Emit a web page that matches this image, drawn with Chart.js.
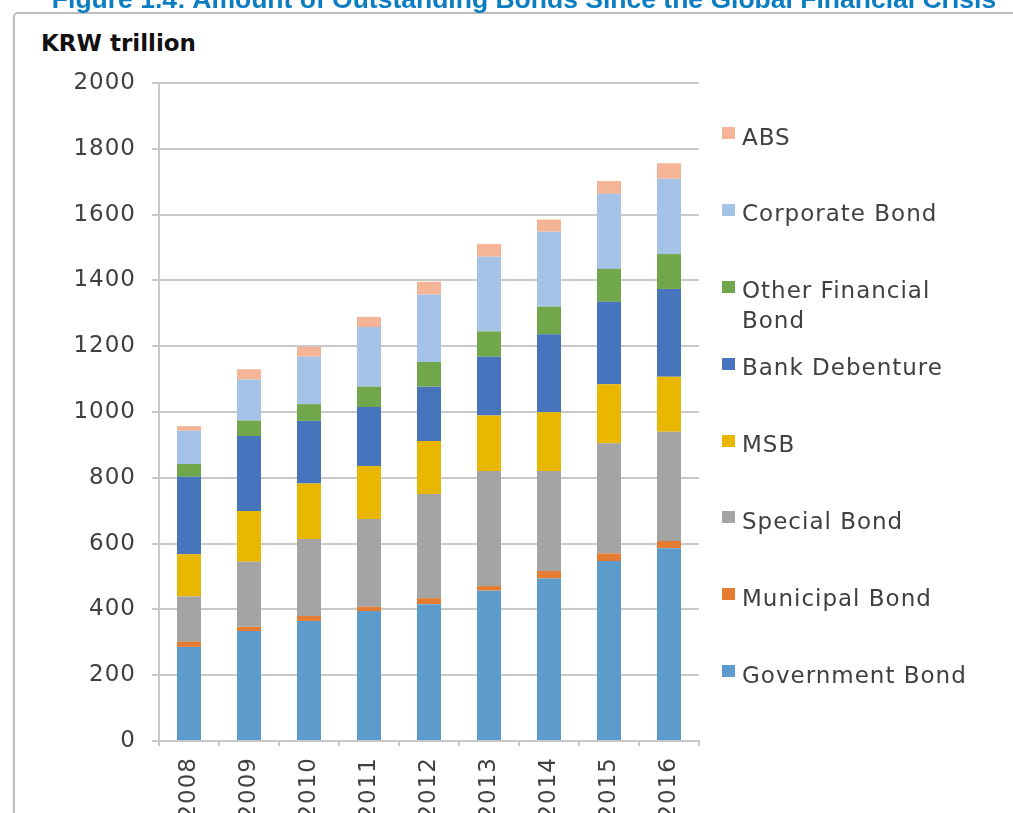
<!DOCTYPE html>
<html>
<head>
<meta charset="utf-8">
<script src="https://cdn.jsdelivr.net/npm/chart.js@4.4.1/dist/chart.umd.min.js"></script>
<style>
  body { margin: 0; width: 1013px; height: 813px; overflow: hidden; background: #fff; position: relative; }
  #frame {
    position: absolute; left: 13px; top: 12px; width: 1100px; height: 900px;
    border: 2px solid #bdbdbd; border-radius: 5px;
    box-shadow: 1px 2px 3px rgba(0,0,0,0.25);
  }
  #title {
    position: absolute; left: 0; top: -16px; width: 1048px; text-align: center;
    font: bold 26.5px "Liberation Sans", Arial, sans-serif; line-height: 30px;
    color: #0b7dc0; white-space: nowrap; z-index: 3;
  }
  #unit {
    position: absolute; left: 41px; top: 28px;
    font: bold 23px "DejaVu Sans", sans-serif; color: #111; line-height: 30px;
  }
  #chart { position: absolute; left: 0; top: 0; }
  #legend { position: absolute; left: 722px; top: 121.5px; }
  .item { position: relative; height: 76.9px; }
  .item .box { position: absolute; left: 0; top: 5.5px; width: 13px; height: 12px; }
  .item .txt {
    position: absolute; left: 20px; top: 0; width: 250px;
    font: 23px "DejaVu Sans", sans-serif; line-height: 30px; color: #404040;
    letter-spacing: 1px;
  }
</style>
</head>
<body>
<div id="frame"></div>
<div id="title">Figure 1.4: Amount of Outstanding Bonds Since the Global Financial Crisis</div>
<div id="unit">KRW trillion</div>
<canvas id="chart" width="1013" height="813"></canvas>
<div id="legend"></div>
<script>
// KRW trillion
const years = ['2008', '2009', '2010', '2011', '2012', '2013', '2014', '2015', '2016'];
const governmentBond = [286, 334, 365, 395, 416, 457, 494, 547, 586];
const municipalBond = [16, 13, 15, 13, 18, 14, 23, 23, 22];
const specialBond = [137, 198, 234, 267, 317, 350, 304, 335, 332];
const msb = [129, 154, 169, 161, 161, 168, 178, 179, 167];
const bankDebenture = [235, 228, 190, 179, 165, 179, 237, 251, 267];
const otherFinancialBond = [39, 47, 51, 62, 75, 77, 84, 100, 106];
const corporateBond = [101, 125, 144, 181, 205, 227, 228, 228, 229];
const absBond = [14, 31, 30, 31, 39, 39, 37, 39, 47];
const yTicks = [0, 200, 400, 600, 800, 1000, 1200, 1400, 1600, 1800, 2000];

const gridColor = '#c9c9c9';
const tickColor = '#404040';
const font = { family: '"DejaVu Sans", sans-serif', size: 23 };

function ds(label, data, color) {
    return { label, data, backgroundColor: color, borderWidth: 0 };
}

// the reference text is a bit spaced out
const spacing = {
    id: 'spacing',
    beforeDraw: (chart) => { chart.ctx.letterSpacing = '1px'; },
};

const chart = new Chart(document.getElementById('chart'), {
    type: 'bar',
    data: {
        labels: years,
        datasets: [
            ds('Government Bond', governmentBond, '#5e9bcd'),
            ds('Municipal Bond', municipalBond, '#e57c31'),
            ds('Special Bond', specialBond, '#a4a4a4'),
            ds('MSB', msb, '#e9b700'),
            ds('Bank Debenture', bankDebenture, '#4674bd'),
            ds('Other Financial Bond', otherFinancialBond, '#70a74a'),
            ds('Corporate Bond', corporateBond, '#a5c3e6'),
            ds('ABS', absBond, '#f5b495'),
        ],
    },
    plugins: [spacing],
    options: {
        responsive: false,
        animation: false,
        barPercentage: 0.4,
        categoryPercentage: 1.0,
        layout: { padding: { top: 83, right: 314, bottom: 0, left: 0 } },
        plugins: {
            legend: { display: false },
            tooltip: { enabled: false },
        },
        scales: {
            x: {
                stacked: true,
                grid: {
                    drawOnChartArea: false,
                    drawTicks: true,
                    tickLength: 5,
                    color: gridColor,
                    lineWidth: 2,
                },
                border: { display: true, color: gridColor, width: 2 },
                ticks: {
                    font, color: tickColor,
                    minRotation: 90, maxRotation: 90,
                    padding: 11,
                    autoSkip: false,
                },
                afterFit: (scale) => { scale.height = 72; },
            },
            y: {
                stacked: true,
                min: 0,
                max: 2000,
                afterBuildTicks: (scale) => { scale.ticks = yTicks.map(v => ({ value: v })); },
                grid: { color: gridColor, lineWidth: 2, tickLength: 7 },
                border: { display: true, color: gridColor, width: 2 },
                ticks: { font, color: tickColor, padding: 16, callback: (v) => String(v) },
                afterFit: (scale) => { scale.width = 159; },
            },
        },
    },
});

// legend on the right, top entry = top of the stack
const legend = document.getElementById('legend');
chart.data.datasets.slice().reverse().forEach((d) => {
    const item = document.createElement('div');
    item.className = 'item';
    const label = d.label === 'Other Financial Bond' ? 'Other Financial<br>Bond' : d.label;
    item.innerHTML = '<div class="box" style="background:' + d.backgroundColor + '"></div>' +
        '<div class="txt">' + label + '</div>';
    legend.appendChild(item);
});
</script>
</body>
</html>
